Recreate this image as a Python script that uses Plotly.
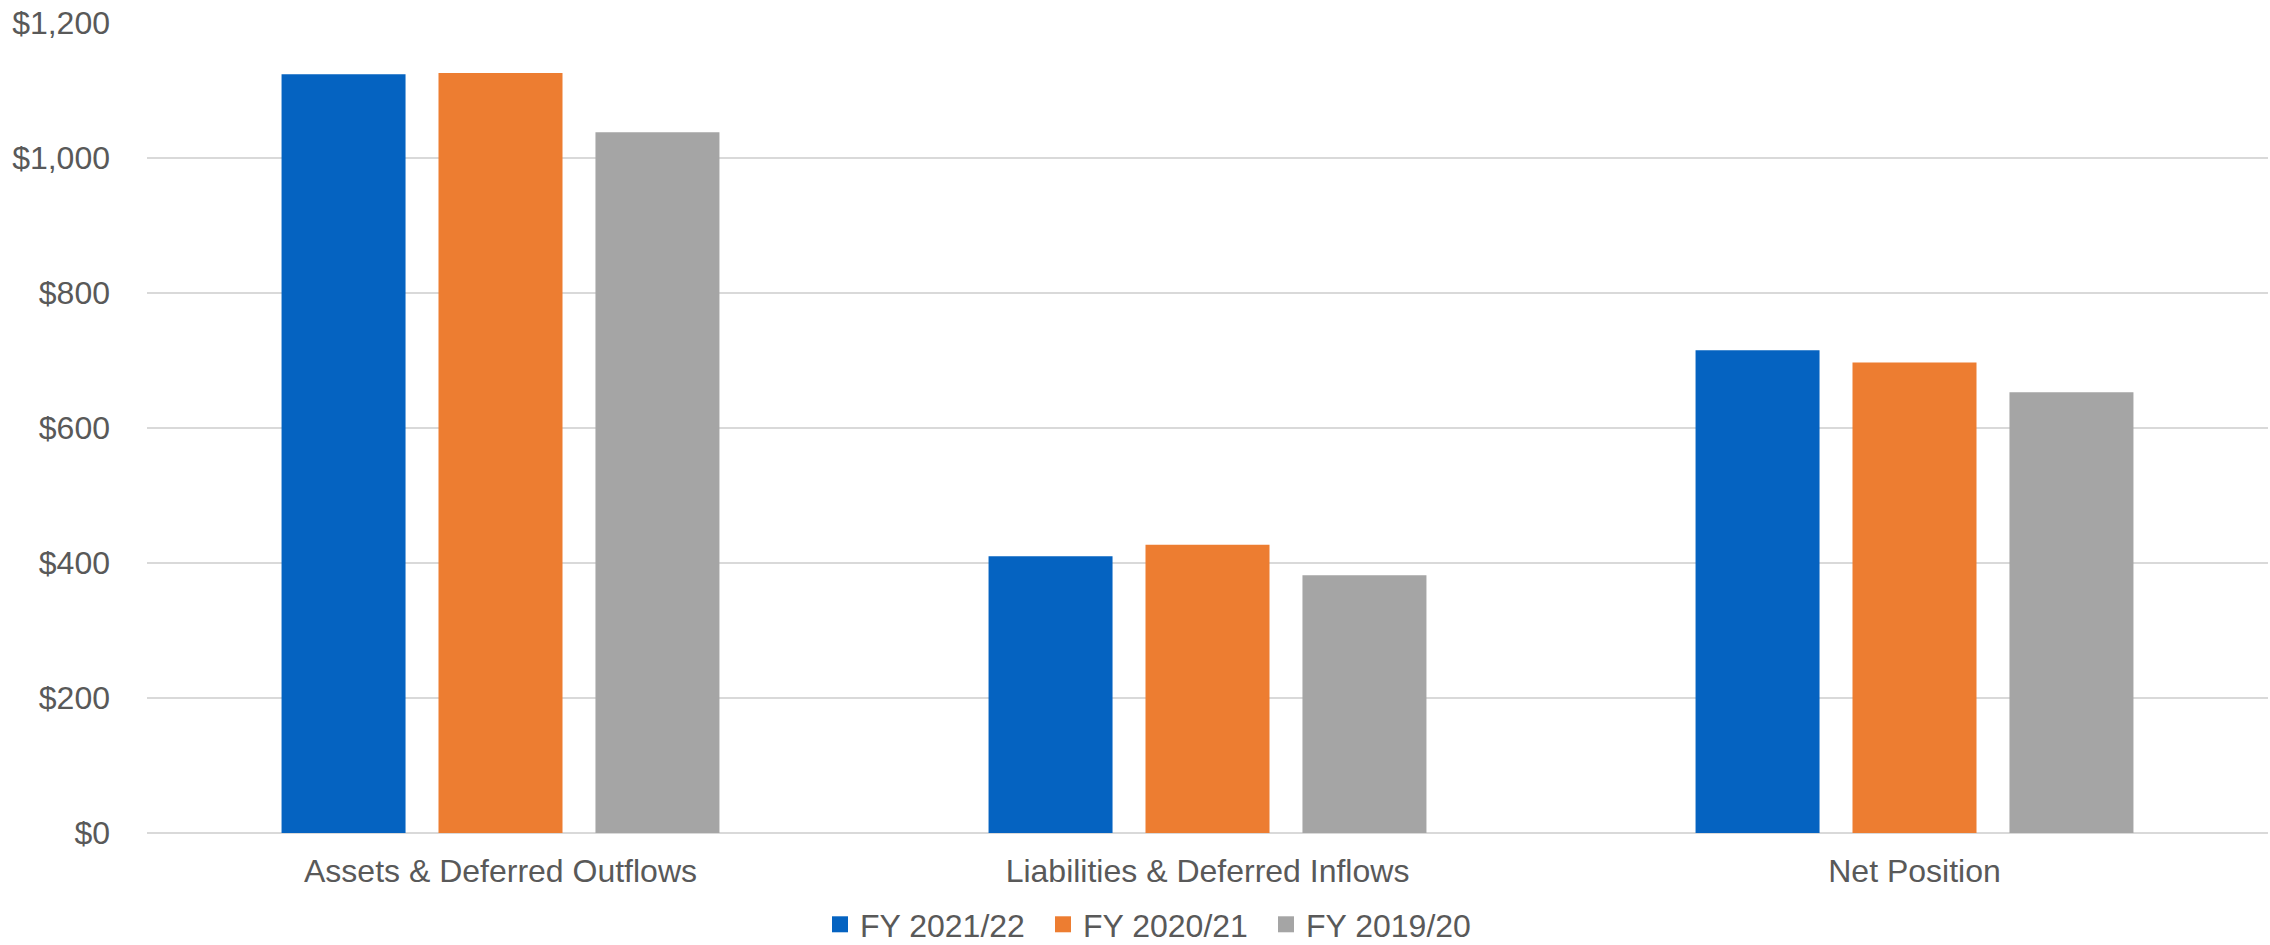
import plotly.graph_objects as go

# Categories and fiscal-year series (values in $ millions)
categories = ["Assets & Deferred Outflows", "Liabilities & Deferred Inflows", "Net Position"]
fy_2021_22 = [1124, 410, 715]
fy_2020_21 = [1126, 427, 697]
fy_2019_20 = [1038, 382, 653]

series_names = ["FY 2021/22", "FY 2020/21", "FY 2019/20"]
series_values = [fy_2021_22, fy_2020_21, fy_2019_20]
series_colors = ["#0563C1", "#ED7D31", "#A5A5A5"]

FONT = "Arial, Liberation Sans, sans-serif"
TEXT_COLOR = "#595959"
FONT_SIZE = 32

fig = go.Figure()

for name, vals, color in zip(series_names, series_values, series_colors):
    fig.add_trace(go.Bar(
        x=categories, y=vals, name=name,
        marker=dict(color=color, line=dict(width=0)),
        showlegend=False,
    ))

# Legend entries with larger square swatches
for name, color in zip(series_names, series_colors):
    fig.add_trace(go.Scatter(
        x=[None], y=[None], mode="markers", name=name,
        marker=dict(symbol="square", size=16, color=color),
        showlegend=True,
    ))

fig.update_layout(
    width=2270, height=945,
    margin=dict(l=147, r=2, t=23, b=112, autoexpand=False),
    paper_bgcolor="white", plot_bgcolor="white",
    barmode="group", bargap=0.334, bargroupgap=0.21,
    font=dict(family=FONT, size=FONT_SIZE, color=TEXT_COLOR),
    legend=dict(
        orientation="h", x=0.3173, xanchor="left", y=-0.079, yanchor="top",
        font=dict(family=FONT, size=FONT_SIZE, color=TEXT_COLOR),
        itemwidth=30, entrywidth=178, entrywidthmode="pixels",
        bgcolor="rgba(0,0,0,0)",
    ),
    showlegend=True,
)

fig.update_xaxes(
    showgrid=False, showline=False, zeroline=False,
    ticks="", ticklabelstandoff=16,
    tickfont=dict(family=FONT, size=FONT_SIZE, color=TEXT_COLOR),
)
fig.update_yaxes(
    range=[0, 1200], dtick=200, tick0=0,
    tickprefix="$", tickformat=",.0f",
    showgrid=True, gridcolor="#D9D9D9", gridwidth=2,
    zeroline=True, zerolinecolor="#D9D9D9", zerolinewidth=2,
    showline=False, ticks="", ticklabelstandoff=36,
    tickfont=dict(family=FONT, size=FONT_SIZE, color=TEXT_COLOR),
)

fig.write_html("out.html")
